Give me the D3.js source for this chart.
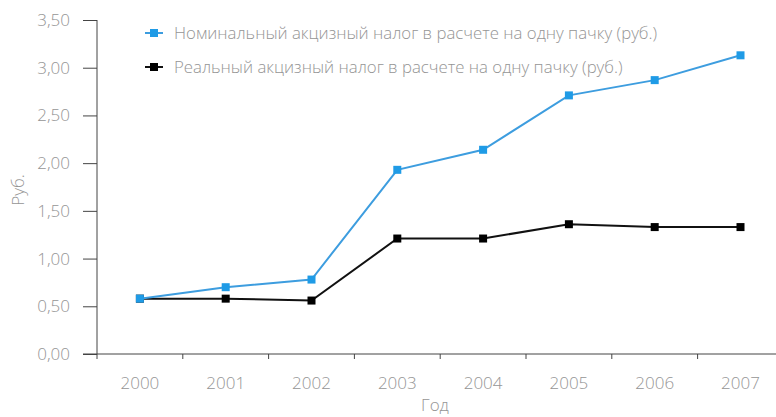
<!DOCTYPE html>
<html>
<head>
<meta charset="utf-8">
<script src="https://cdn.jsdelivr.net/npm/d3@7"></script>
<style>
  body { margin: 0; background: #fff; }
  svg text { font-family: "Open Sans", "Noto Sans", sans-serif; font-weight: 300; fill: #959595; }
</style>
</head>
<body>
<div id="chart"></div>
<script>
const years = ["2000", "2001", "2002", "2003", "2004", "2005", "2006", "2007"];
const nominal = [0.58, 0.70, 0.78, 1.93, 2.14, 2.71, 2.87, 3.13];
const real = [0.58, 0.58, 0.56, 1.21, 1.21, 1.36, 1.33, 1.33];
const yTicks = [0, 0.5, 1, 1.5, 2, 2.5, 3, 3.5];
const seriesNames = [
    "Номинальный акцизный налог в расчете на одну пачку (руб.)",
    "Реальный акцизный налог в расчете на одну пачку (руб.)"
];

const width = 776, height = 417;
const margin = { left: 97, top: 20, bottom: 63 };

const svg = d3.select("#chart").append("svg")
    .attr("width", width)
    .attr("height", height);

// band per year, the last one runs past the window edge
const x = d3.scaleBand()
    .domain(years)
    .range([margin.left, margin.left + 8 * 85.8]);

const y = d3.scaleLinear()
    .domain([0, 3.5])
    .range([height - margin.bottom, margin.top]);

const fmt = d => d3.format(".2f")(d).replace(".", ",");

// y axis
const yAxis = svg.append("g")
    .attr("transform", `translate(${margin.left},0)`)
    .call(d3.axisLeft(y).tickValues(yTicks).tickFormat(fmt).tickSize(14).tickPadding(13));
yAxis.select(".domain").attr("stroke", "#444").attr("d", `M0,${y(3.5)}V${y(0)}`);
yAxis.selectAll(".tick line").attr("stroke", "#444");
yAxis.selectAll(".tick text").style("font-size", "17px");

// x axis: ticks on band edges, labels at band centres
const xAxis = svg.append("g")
    .attr("transform", `translate(0,${y(0)})`);
xAxis.append("line")
    .attr("x1", margin.left - 14).attr("x2", width)
    .attr("stroke", "#444");
xAxis.selectAll(".xtick")
    .data(years)
    .join("line")
    .attr("class", "xtick")
    .attr("x1", d => x(d)).attr("x2", d => x(d))
    .attr("y1", 0).attr("y2", 5)
    .attr("stroke", "#444");
xAxis.selectAll(".xlabel")
    .data(years)
    .join("text")
    .attr("class", "xlabel")
    .attr("x", d => x(d) + x.bandwidth() / 2)
    .attr("y", 35)
    .attr("text-anchor", "middle")
    .style("font-size", "17px")
    .text(d => d);

// axis titles
svg.append("text")
    .attr("transform", `translate(24,190) rotate(-90)`)
    .attr("text-anchor", "middle")
    .style("font-size", "17px")
    .text("Руб.");
svg.append("text")
    .attr("x", 435)
    .attr("y", 411)
    .attr("text-anchor", "middle")
    .style("font-size", "17px")
    .text("Год");

const series = [
    { name: seriesNames[0], values: nominal, color: "#1f9be6", line: "#3d9ddf" },
    { name: seriesNames[1], values: real, color: "#000", line: "#111" }
];

const line = d3.line()
    .x((d, i) => x(years[i]) + x.bandwidth() / 2)
    .y(d => y(d));

// draw the real series first so the blue one sits on top at 2000
series.slice().reverse().forEach(s => {
    svg.append("path")
        .datum(s.values)
        .attr("fill", "none")
        .attr("stroke", s.line)
        .attr("stroke-width", 2)
        .attr("d", line);
    svg.selectAll(null)
        .data(s.values)
        .join("rect")
        .attr("x", (d, i) => x(years[i]) + x.bandwidth() / 2 - 4)
        .attr("y", d => y(d) - 4)
        .attr("width", 8)
        .attr("height", 8)
        .attr("fill", s.color);
});

// legend
const legend = svg.append("g")
    .attr("transform", "translate(145,33)");
const items = legend.selectAll("g")
    .data(series)
    .join("g")
    .attr("transform", (d, i) => `translate(0,${i * 34})`);
items.append("line")
    .attr("x1", 0).attr("x2", 18)
    .attr("stroke", d => d.line)
    .attr("stroke-width", 2);
items.append("rect")
    .attr("x", 5).attr("y", -4)
    .attr("width", 8).attr("height", 8)
    .attr("fill", d => d.color);
items.append("text")
    .attr("x", 29)
    .attr("y", 6)
    .style("font-size", "16.8px")
    .text(d => d.name);
</script>
</body>
</html>
